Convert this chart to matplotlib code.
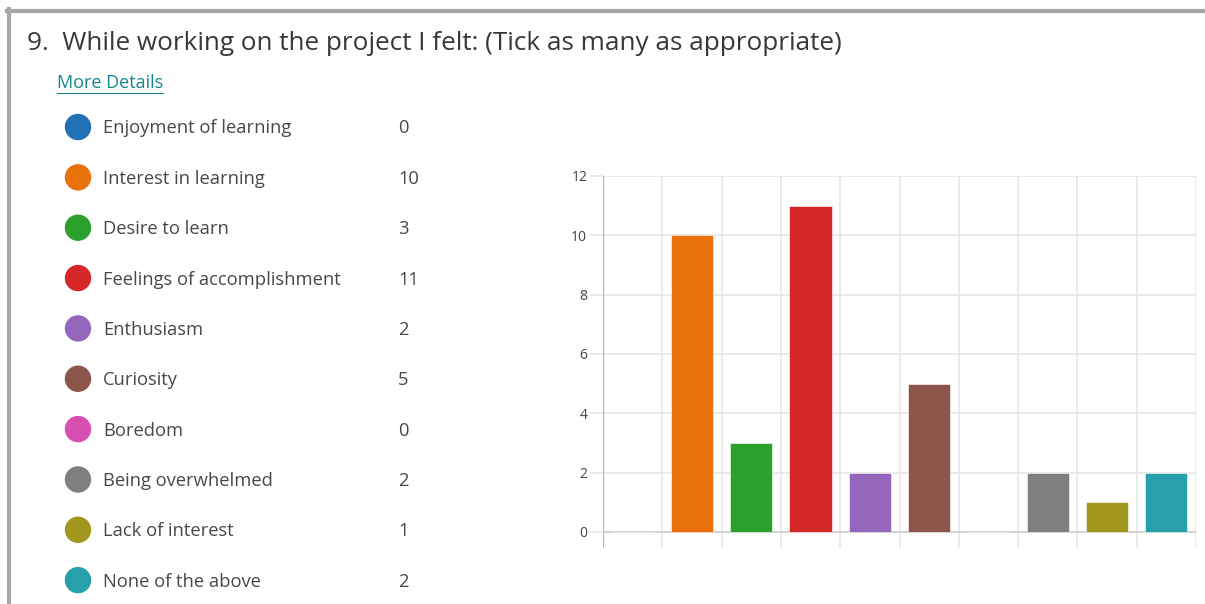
import matplotlib
matplotlib.use("Agg")
import matplotlib.pyplot as plt
from matplotlib.lines import Line2D
from matplotlib.patches import Ellipse

W, H = 1205, 604

title = "9.  While working on the project I felt: (Tick as many as appropriate)"
link_text = "More Details"
categories = [
    "Enjoyment of learning",
    "Interest in learning",
    "Desire to learn",
    "Feelings of accomplishment",
    "Enthusiasm",
    "Curiosity",
    "Boredom",
    "Being overwhelmed",
    "Lack of interest",
    "None of the above",
]
counts = [0, 10, 3, 11, 2, 5, 0, 2, 1, 2]
colors = [
    "#2171b5", "#e8710a", "#2ca02c", "#d62728", "#9467bd",
    "#8c564b", "#d84fb2", "#7f7f7f", "#a3961f", "#28a0ac",
]
y_ticks = [0, 2, 4, 6, 8, 10, 12]

plt.rcParams["font.family"] = ["Open Sans", "DejaVu Sans"]

fig = plt.figure(figsize=(W / 100, H / 100), dpi=100)
fig.patch.set_facecolor("white")


def fx(x):
    return x / W


def fy(y):
    return 1 - y / H


# card border (top and left edges)
fig.add_artist(Line2D([fx(7), fx(W)], [fy(11), fy(11)], color="#a6a6a6", lw=3))
fig.add_artist(Line2D([fx(9), fx(9)], [fy(9), fy(H)], color="#a6a6a6", lw=3))

# heading and link
fig.text(fx(27), fy(44), title, fontsize=18.8, color="#383838", va="center", ha="left")
link = fig.text(fx(57), fy(83), link_text, fontsize=13.0, color="#11868c",
                va="center", ha="left")
fig.canvas.draw()
bb = link.get_window_extent(fig.canvas.get_renderer())
fig.add_artist(Line2D([bb.x0 / W, bb.x1 / W], [fy(93), fy(93)],
                      color="#11868c", lw=0.8))

# legend list with counts
row0, row_step = 127, 50.35
for i, (name, val, col) in enumerate(zip(categories, counts, colors)):
    yy = row0 + i * row_step
    fig.add_artist(Ellipse((fx(78), fy(yy)), width=25 / W, height=25 / H,
                           color=col, transform=fig.transFigure))
    fig.text(fx(103), fy(yy + 1.5), name, fontsize=13.2, color="#484848",
             va="center", ha="left")
    fig.text(fx(398), fy(yy + 1.5), str(val), fontsize=13.2, color="#484848",
             va="center", ha="left")

# bar chart
ax_left, ax_right, ax_top, ax_bottom = 603, 1196, 176, 548
ax = fig.add_axes([fx(ax_left), fy(ax_bottom), (ax_right - ax_left) / W,
                   (ax_bottom - ax_top) / H])
n = len(categories)
xs = [i + 0.5 for i in range(n)]
ax.bar(xs, counts, width=0.71, color=colors, edgecolor="white", linewidth=0.4,
       zorder=3)
ax.set_xlim(0, n)
ax.set_ylim(-0.54, 12)
for s in ax.spines.values():
    s.set_visible(False)
ax.set_xticks(range(n + 1))
ax.set_xticklabels([])
ax.tick_params(axis="x", length=0)
ax.set_yticks(y_ticks)
ax.set_yticklabels([str(v) for v in y_ticks])
ax.tick_params(axis="y", length=9.4, width=1.1, color="#e4e4e4", pad=2,
               labelsize=10, labelcolor="#444444")
ax.grid(True, color="#e6e6e6", linewidth=1.2, zorder=0)
ax.axvline(0, color="#b8b8b8", linewidth=1.0, zorder=2)
ax.axhline(0, color="#cfcfcf", linewidth=1.2, zorder=2)

fig.savefig("out.png", dpi=100, facecolor="white")
